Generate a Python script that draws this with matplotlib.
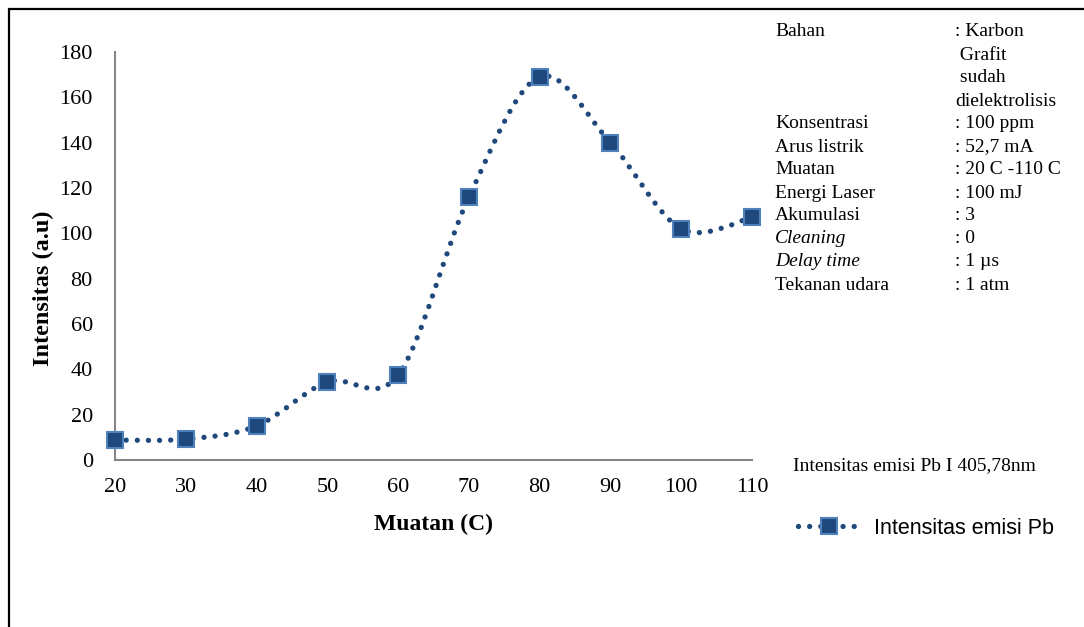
import matplotlib
matplotlib.use('Agg')
import matplotlib.pyplot as plt
from matplotlib.path import Path
from matplotlib.patches import PathPatch, Rectangle
from matplotlib.lines import Line2D
import numpy as np

muatan = [20, 30, 40, 50, 60, 70, 80, 90, 100, 110]
intensitas = [8.8, 9.2, 15, 34.4, 37.5, 116, 169, 140, 102, 107]

info_labels = ['Bahan', '', '', '', 'Konsentrasi', 'Arus listrik', 'Muatan',
               'Energi Laser', 'Akumulasi', 'Cleaning', 'Delay time', 'Tekanan udara']
info_values = [': Karbon', ' Grafit', ' sudah', 'dielektrolisis', ': 100 ppm', ': 52,7 mA',
               ': 20 C -110 C', ': 100 mJ', ': 3', ': 0', ': 1 \u00b5s', ': 1 atm']
italic_rows = ['Cleaning', 'Delay time']

navy = '#1F497D'
edge = '#4F81BD'
serif = 'Liberation Serif'
dots = (0, (0.01, 2.1))

fig = plt.figure(figsize=(10.84, 6.27), dpi=100)
ax = fig.add_axes([115 / 1084, 1 - 460 / 627, (752 - 115) / 1084, (460 - 52) / 627])

# smoothed curve as cubic bezier segments (excel-style smoothing)
x = np.array(muatan, float)
y = np.array(intensitas, float)
px = np.concatenate([[x[0]], x, [x[-1]]])
py = np.concatenate([[y[0]], y, [y[-1]]])
verts = [(x[0], y[0])]
codes = [Path.MOVETO]
for i in range(len(x) - 1):
    c1 = (px[i + 1] + (px[i + 2] - px[i]) / 6, py[i + 1] + (py[i + 2] - py[i]) / 6)
    c2 = (px[i + 2] - (px[i + 3] - px[i + 1]) / 6, py[i + 2] - (py[i + 3] - py[i + 1]) / 6)
    verts += [c1, c2, (x[i + 1], y[i + 1])]
    codes += [Path.CURVE4] * 3
curve = PathPatch(Path(verts, codes), facecolor='none', edgecolor=navy,
                  linewidth=3.8, linestyle=dots, capstyle='round', zorder=2)
ax.add_patch(curve)
ax.plot(muatan, intensitas, linestyle='none', marker='s', markersize=12,
        markerfacecolor=navy, markeredgecolor=edge, markeredgewidth=1.5, zorder=3, clip_on=False)

ax.set_xlim(20, 110)
ax.set_ylim(0, 180)
ax.set_xticks(muatan)
ax.set_yticks(range(0, 181, 20))
for s in ['top', 'right']:
    ax.spines[s].set_visible(False)
for s in ['left', 'bottom']:
    ax.spines[s].set_color('#868686')
    ax.spines[s].set_linewidth(1.5)
ax.tick_params(length=0, labelsize=16)
ax.tick_params(axis='x', pad=13)
ax.tick_params(axis='y', pad=16)
for lab in ax.get_xticklabels() + ax.get_yticklabels():
    lab.set_fontfamily(serif)

fig.text(433 / 1084, 1 - 524 / 627, 'Muatan (C)', family=serif, fontweight='bold',
         fontsize=17, ha='center', va='center')
fig.text(43 / 1084, 1 - 288 / 627, 'Intensitas (a.u)', family=serif, fontweight='bold',
         fontsize=17.5, ha='center', va='center', rotation=90)

# parameter block
for k, (lab, val) in enumerate(zip(info_labels, info_values)):
    yy = 1 - (32 + 23 * k) / 627
    st = 'italic' if lab in italic_rows else 'normal'
    fig.text(775 / 1084, yy, lab, family=serif, fontsize=14, style=st, va='center')
    fig.text(955 / 1084, yy, val, family=serif, fontsize=14, va='center')

fig.text(793 / 1084, 1 - 466 / 627, 'Intensitas emisi Pb I 405,78nm', family=serif,
         fontsize=14, va='center')

handle = Line2D([], [], color=navy, linewidth=3.8, linestyle=dots,
                dash_capstyle='round', marker='s', markersize=12,
                markerfacecolor=navy, markeredgecolor=edge, markeredgewidth=1.5)
fig.legend([handle], ['Intensitas emisi Pb'], loc='center left',
           bbox_to_anchor=(779 / 1084, 1 - 528 / 627), frameon=False,
           handlelength=2.8, handletextpad=0.7, numpoints=1,
           prop={'family': 'Liberation Sans', 'size': 15.5})

# outer frame of the chart area
fig.add_artist(Rectangle((9 / 1084, -0.1), 1.2, 1 - 9 / 627 + 0.1, transform=fig.transFigure,
                         fill=False, edgecolor='black', linewidth=1.6))

fig.savefig('out.png', dpi=100)
